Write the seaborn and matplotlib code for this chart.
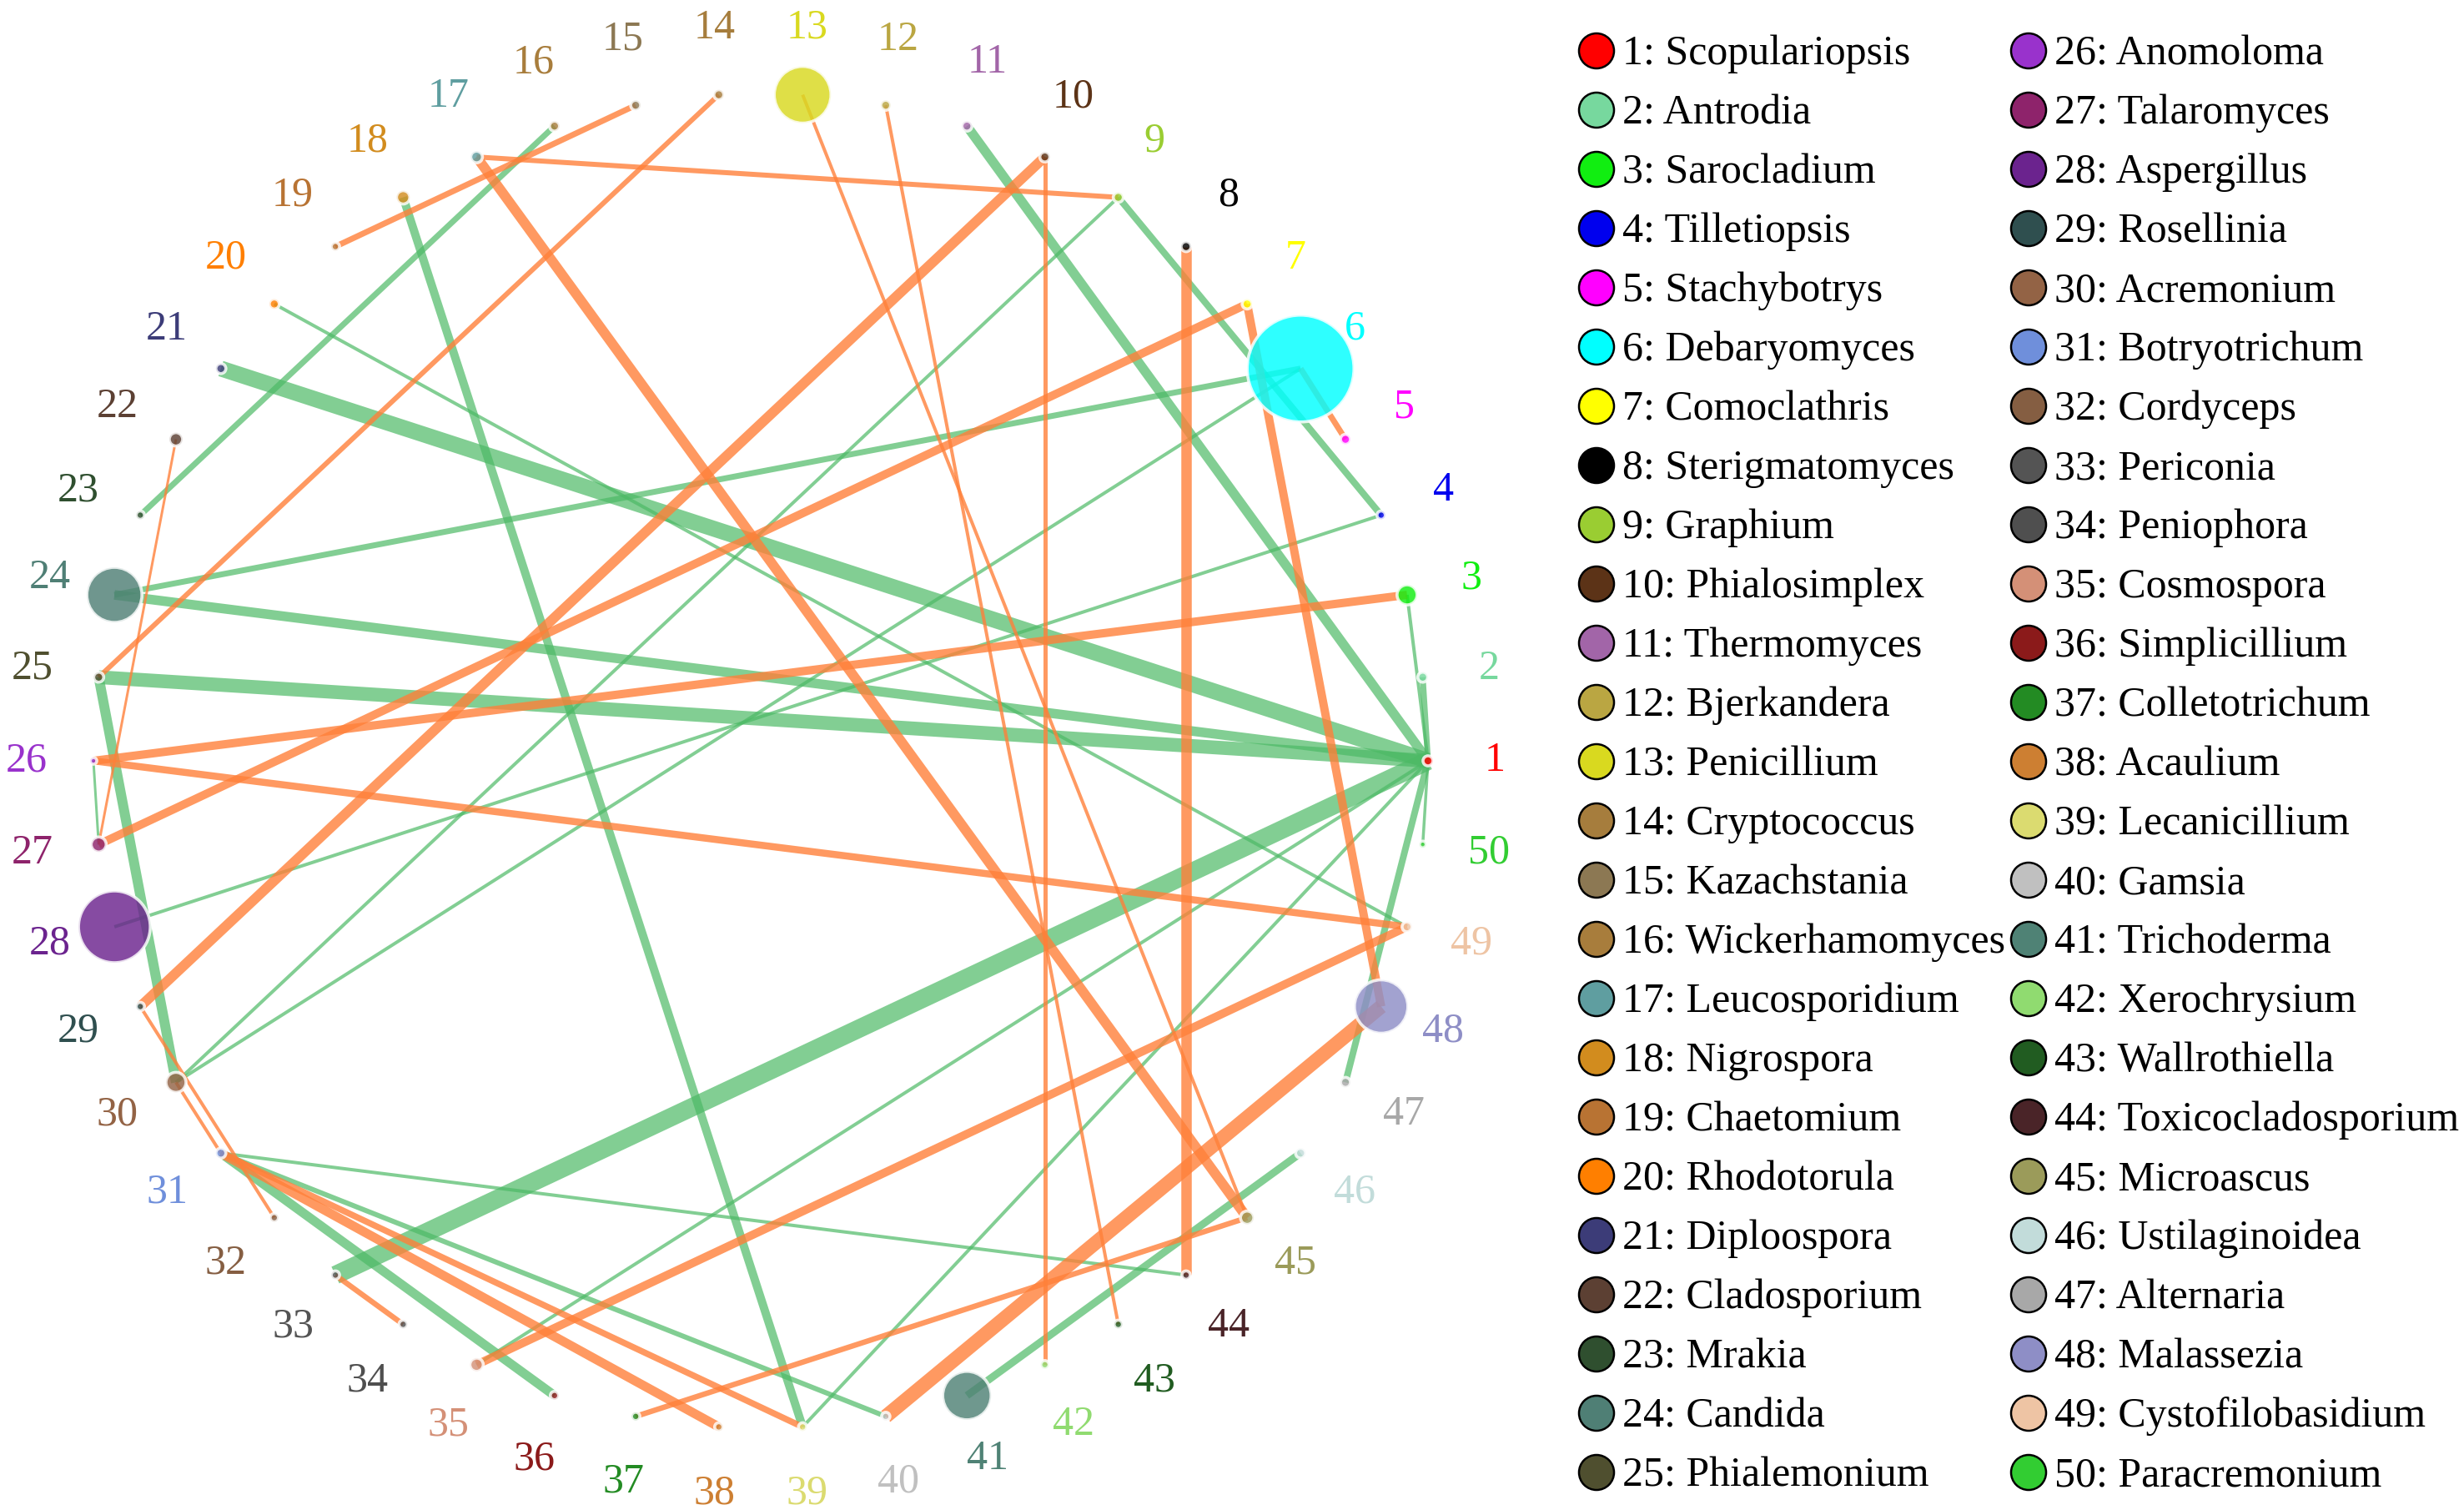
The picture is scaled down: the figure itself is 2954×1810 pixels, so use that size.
import numpy as np
import pandas as pd
import matplotlib
matplotlib.use("Agg")
import matplotlib.pyplot as plt
import seaborn as sns

# genera around the circle (node 1 at 3 o'clock, counter-clockwise)
genus = ["Scopulariopsis", "Antrodia", "Sarocladium", "Tilletiopsis", "Stachybotrys",
         "Debaryomyces", "Comoclathris", "Sterigmatomyces", "Graphium", "Phialosimplex",
         "Thermomyces", "Bjerkandera", "Penicillium", "Cryptococcus", "Kazachstania",
         "Wickerhamomyces", "Leucosporidium", "Nigrospora", "Chaetomium", "Rhodotorula",
         "Diploospora", "Cladosporium", "Mrakia", "Candida", "Phialemonium",
         "Anomoloma", "Talaromyces", "Aspergillus", "Rosellinia", "Acremonium",
         "Botryotrichum", "Cordyceps", "Periconia", "Peniophora", "Cosmospora",
         "Simplicillium", "Colletotrichum", "Acaulium", "Lecanicillium", "Gamsia",
         "Trichoderma", "Xerochrysium", "Wallrothiella", "Toxicocladosporium", "Microascus",
         "Ustilaginoidea", "Alternaria", "Malassezia", "Cystofilobasidium", "Paracremonium"]

node_colors = ["#FF0000", "#77D89E", "#11EE11", "#0000EE", "#FF00FF",
               "#00FFFF", "#FFFF00", "#000000", "#9ACD32", "#5C3317",
               "#A265A8", "#BAA642", "#D9D91F", "#A67D3D", "#8C7853",
               "#A87D3C", "#5F9EA0", "#D28C1E", "#B87333", "#FF7F00",
               "#3C3C78", "#5C4033", "#2F4F2F", "#4F7F75", "#4F4F2F",
               "#9932CC", "#8E236B", "#6B238E", "#2F4F4F", "#936345",
               "#6F8FDB", "#855E42", "#545454", "#4F4F4F", "#D49077",
               "#8B1A1A", "#238B23", "#CD7F32", "#DBDB70", "#C0C0C0",
               "#4F8275", "#90DB70", "#215C21", "#4A2428", "#9B9B5A",
               "#C2DCDA", "#A8A8A8", "#8E8EC6", "#EEC4A4", "#32CD32"]

# node size (abundance), radius in pixels
node_size = [6, 6, 12, 5, 6, 64, 6, 6, 6, 6,
             6, 6, 34, 6, 6, 6, 7, 8, 5, 6,
             6, 8, 5, 33, 6, 4, 9, 43, 5, 12,
             6, 5, 5, 5, 8, 5, 5, 5, 5, 5,
             29, 5, 5, 5, 8, 6, 6, 32, 6, 4]

# correlations: source, target, strength (line width in px), sign
edge_source = [21, 25, 33, 24, 11, 47, 2, 3, 50, 39, 35,
               18, 25, 16, 24, 9, 31, 41, 9, 30, 28, 20, 31, 31, 26,
               40, 8, 10, 17, 7, 27, 26, 31, 26, 35, 14, 15, 17, 31,
               37, 33, 6, 10, 12, 13, 22, 29, 30]
edge_target = [1, 1, 1, 1, 1, 1, 1, 1, 1, 1, 1,
               39, 30, 23, 6, 4, 36, 46, 30, 6, 4, 49, 44, 40, 27,
               48, 44, 29, 45, 48, 7, 3, 38, 49, 49, 25, 19, 9, 39,
               45, 34, 5, 42, 43, 45, 27, 32, 31]
edge_strength = [19, 16.5, 22, 11.5, 11.5, 8, 7, 4, 3.5, 4, 4,
                 10, 12, 7, 7, 8, 11, 9, 4, 4, 4, 4, 4, 6, 3,
                 17, 12.5, 12, 12, 10, 10, 10, 11, 8.5, 10, 6, 7, 6, 7.5,
                 6.5, 6.5, 7, 5, 4, 4, 3, 4, 4]
edge_sign = ["pos"] * 25 + ["neg"] * 23

W, H, DPI = 2954, 1810, 200
PT = 72 / DPI          # points per pixel
CX, CY, R, R_LAB = 912, 912, 800, 880
edge_palette = {"pos": ("#4DBA66", 0.70), "neg": ("#FF8039", 0.80)}

sns.set_theme(style="white")
plt.rcParams["font.family"] = ["Liberation Serif", "DejaVu Serif"]

n = len(genus)
ids = [str(i) for i in range(1, n + 1)]
theta = np.deg2rad(np.arange(n) * 360.0 / n)
nodes = pd.DataFrame({
    "node": ids,
    "x": CX + R * np.cos(theta),
    "y": CY - R * np.sin(theta),
    "lx": CX + R_LAB * np.cos(theta),
    "ly": CY - R_LAB * np.sin(theta),
})
edges = pd.DataFrame({"source": edge_source, "target": edge_target,
                      "strength": edge_strength, "sign": edge_sign})

fig = plt.figure(figsize=(W / DPI, H / DPI), dpi=DPI)
ax = fig.add_axes([0, 0, 1, 1])

# edges
for _, e in edges.iterrows():
    a = nodes.iloc[e["source"] - 1]
    b = nodes.iloc[e["target"] - 1]
    col, alpha = edge_palette[e["sign"]]
    ax.plot([a["x"], b["x"]], [a["y"], b["y"]], color=col, alpha=alpha,
            lw=e["strength"] * PT, solid_capstyle="butt", zorder=1)

# nodes
palette = dict(zip(ids, node_colors))
areas = {k: (2 * r * PT) ** 2 for k, r in zip(ids, node_size)}
sns.scatterplot(data=nodes, x="x", y="y", hue="node", palette=palette,
                size="node", sizes=areas, legend=False, alpha=0.82,
                edgecolor="white", linewidth=1.3, ax=ax, zorder=3)

for i, row in nodes.iterrows():
    ax.text(row["lx"], row["ly"], row["node"], color=node_colors[i],
            fontsize=18, ha="center", va="center", zorder=4)

# legend, two columns of 25
leg = pd.DataFrame({
    "node": ids,
    "mx": [1914 if i < 25 else 2432 for i in range(n)],
    "my": [61 + 71 * (i % 25) for i in range(n)],
})
sns.scatterplot(data=leg, x="mx", y="my", hue="node", palette=palette,
                s=(42 * PT) ** 2, legend=False, edgecolor="black",
                linewidth=0.9, ax=ax, zorder=3)
for i, row in leg.iterrows():
    ax.text(row["mx"] + 31, row["my"] + 4, f"{row['node']}: {genus[i]}",
            fontsize=18, ha="left", va="center", color="black")

ax.set_xlim(0, W)
ax.set_ylim(H, 0)
ax.axis("off")
fig.savefig("out.png", dpi=DPI)
